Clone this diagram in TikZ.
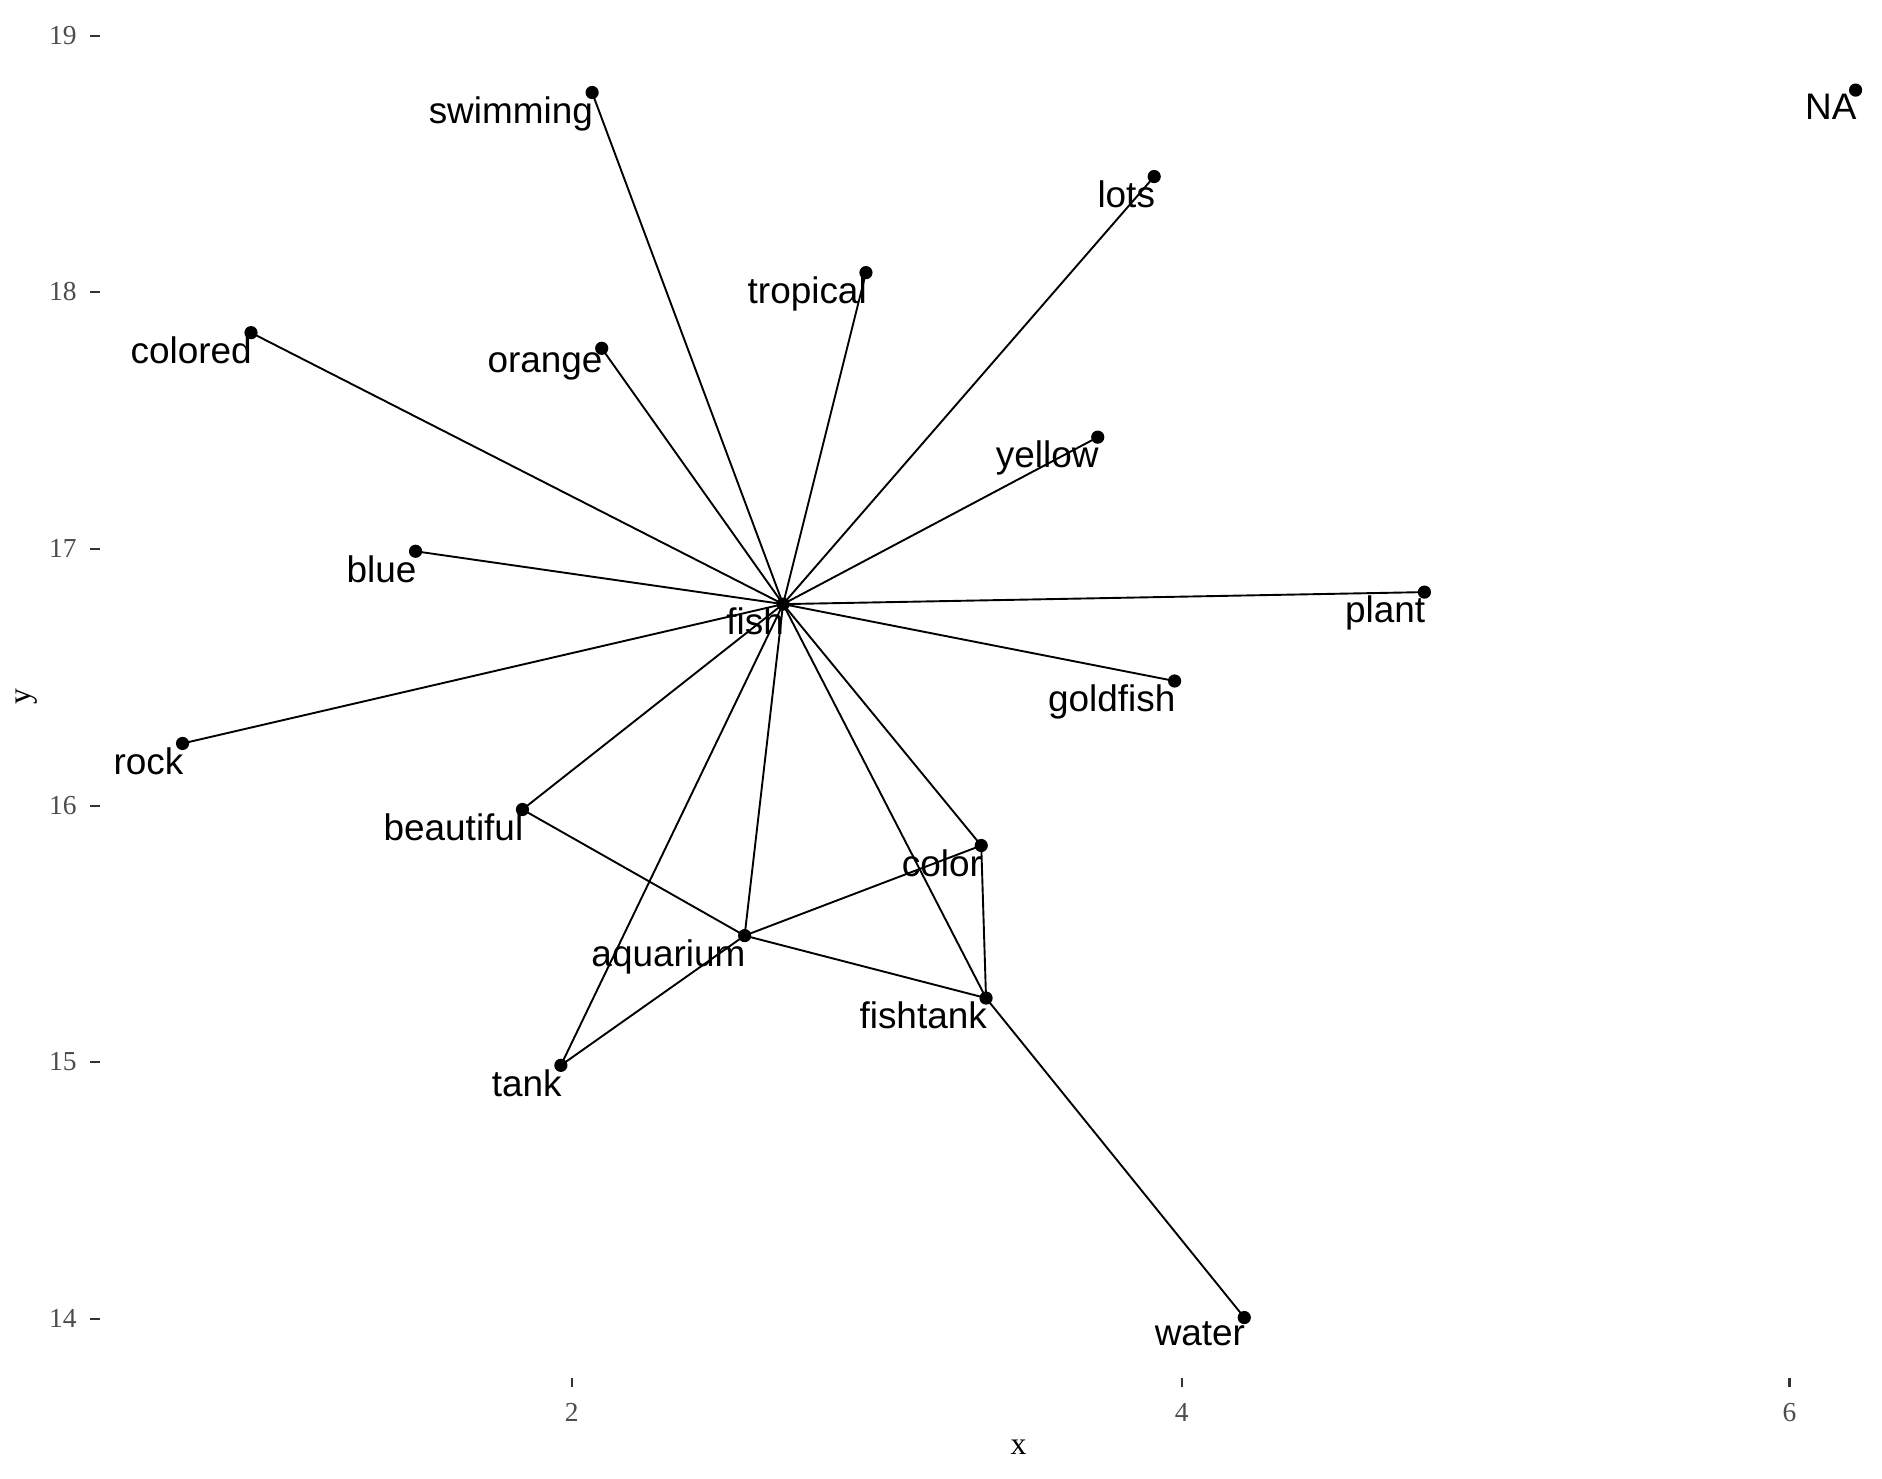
\documentclass[tikz,border=0pt]{standalone}
\usepackage{fontspec}
\setmainfont{Liberation Serif}
\newfontfamily\lab{Liberation Sans}
\begin{document}
\begin{tikzpicture}[x=0.02cm,y=-0.02cm,
  pt/.style={circle,fill=black,inner sep=0pt,minimum size=0.22cm},
  lbl/.style={anchor=north east,inner sep=0pt,font=\lab\fontsize{17.5}{18}\selectfont,yshift=-0.06cm,xshift=0.02cm},
  edge/.style={line width=0.9pt},
  tick/.style={line width=1.1pt,color=black!80},
  ticklab/.style={font=\fontsize{13}{14}\selectfont,text=black!70}]
\useasboundingbox[fill=white] (0,0) rectangle (1567,1231);
\foreach \n/\x/\y in {swimming/493/77, NA/1545/75, lots/961/147, tropical/721/227, colored/209/277, orange/501/290, yellow/914/364, blue/346/459, fish/652/503, plant/1186/493, goldfish/978/567, rock/152/619, beautiful/435/674, color/817/704, aquarium/620/779, fishtank/821/831, tank/467/887, water/1036/1097}
  {\node[pt] (\n) at (\x,\y) {};}
\foreach \t in {swimming,lots,tropical,colored,orange,yellow,blue,plant,goldfish,rock,beautiful,color,aquarium,fishtank,tank}
  {\draw[edge] (fish.center) -- (\t.center);}
\draw[edge] (beautiful.center) -- (aquarium.center);
\draw[edge] (aquarium.center) -- (color.center);
\draw[edge] (aquarium.center) -- (fishtank.center);
\draw[edge] (aquarium.center) -- (tank.center);
\draw[edge] (color.center) -- (fishtank.center);
\draw[edge] (fishtank.center) -- (water.center);
\foreach \n in {swimming,NA,lots,tropical,colored,orange,yellow,blue,fish,plant,goldfish,rock,beautiful,color,aquarium,fishtank,tank,water}
  {\node[lbl] at (\n.center) {\n};}
% y axis
\foreach \v/\yy in {19/30,18/243,17/457,16/671,15/884,14/1098}
  {\coordinate (yt\v) at (75,\yy); \draw[tick] (yt\v) -- ++(8,0);
   \node[ticklab,anchor=east] at (70,\yy) {\v};}
% x axis
\foreach \v/\xx in {2/476,4/984,6/1490}
  {\coordinate (xt\v) at (\xx,1147); \draw[tick] (xt\v) -- ++(0,8);
   \node[ticklab,anchor=north] at (\xx,1162) {\v};}
\node[font=\fontsize{15}{16}\selectfont] (xl) at (848,1205) {x};
\node[font=\fontsize{15}{16}\selectfont,rotate=90] (yl) at (22,580) {y};
\end{tikzpicture}
\end{document}
